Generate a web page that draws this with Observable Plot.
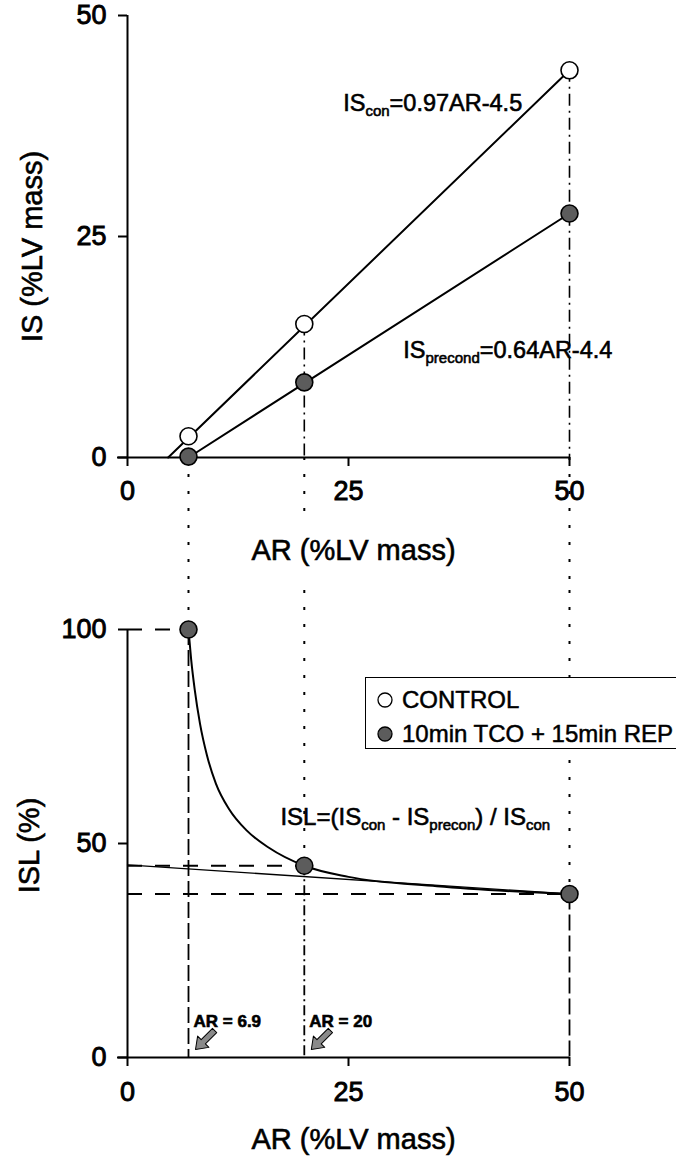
<!DOCTYPE html>
<html><head><meta charset="utf-8">
<script src="https://cdn.jsdelivr.net/npm/d3@7"></script>
<script src="https://cdn.jsdelivr.net/npm/@observablehq/plot@0.6"></script>
<style>
html,body{margin:0;padding:0;background:#fff;overflow:hidden;}
#wrap{position:relative;width:676px;height:1162px;font-family:"Liberation Sans",Arial,sans-serif;}
#wrap svg{display:block;}
#wrap svg text{stroke:#000;stroke-width:0.6px;}
#wrap svg g[aria-label="x-axis tick label"] text,#wrap svg g[aria-label="y-axis tick label"] text{stroke-width:0.9px;}
.legend{position:absolute;left:365px;top:677px;width:340px;height:72px;border:1.6px solid #000;box-sizing:border-box;background:#fff;font-size:24px;-webkit-text-stroke:0.5px #000;}
.legend .row{position:absolute;left:10px;display:flex;align-items:center;white-space:nowrap;}
.legend .row svg{margin-right:8px;}
</style>
</head><body>
<div id="wrap"></div>
<script>
// ---- data ----
const arPoints   = [6.9, 20, 50];          // AR (%LV mass)
const isControl  = [2.4, 15.1, 43.8];      // IS control (%LV mass)
const isPrecond  = [0.1, 8.5, 27.6];       // IS preconditioned (%LV mass)
const controlFitAR = [4.6, 50];
const controlFitIS = [0, 43.8];
const precondFitAR = [6.9, 50];
const precondFitIS = [0, 27.6];
const islPoints  = [100, 44.8, 38.2];      // ISL (%)
const curveAR    = [6.9, 7.2, 7.6, 8.2, 9.0, 10.0, 11.5, 13.5, 16.0, 20, 25, 35, 50];
const curveISL   = [100, 93, 86, 78, 70.5, 64, 58, 53, 49, 44.8, 42.2, 40, 38.2];
const trendAR    = [0, 50];
const trendISL   = [45, 38.2];
const xTicks     = [0, 25, 50];
const isTicks    = [0, 25, 50];
const islTicks   = [0, 50, 100];
const xLabel = "AR (%LV mass)";
const isLabel = "IS (%LV mass)";
const islLabel = "ISL (%)";
const legendLabels = ["CONTROL", "10min TCO + 15min REP"];
const eqTop = [{t: "IS{con}=0.97AR-4.5", x: 24.4, y: 40.0}, {t: "IS{precond}=0.64AR-4.4", x: 31.2, y: 12.1}];
const eqBottom = [{t: "ISL=(IS{con} - IS{precon}) / IS{con}", x: 17.3, y: 56.1}];
const annotAR = [6.9, 20];
const annotLabels = ["AR = 6.9", "AR = 20"];
const annotISL = 8.4;

// ---- layout ----
const W = 676;
const topL = {height: 590, marginTop: 15, marginBottom: 133, marginLeft: 127, marginRight: 107};
const botL = {height: 572, marginTop: 39, marginBottom: 105, marginLeft: 127, marginRight: 107};
const FONT = "'Liberation Sans', Arial, sans-serif";
const style = {fontFamily: FONT, fontSize: "27px", background: "white", overflow: "visible"};
const idx = d3.range(arPoints.length);
const dotsStroke = 1.6;

const fatArrow = {
  draw(ctx, l) {
    const w = 3, hw = 8, hl = 11;
    ctx.moveTo(-w, 0); ctx.lineTo(-w, -l + hl); ctx.lineTo(-hw, -l + hl);
    ctx.lineTo(0, -l); ctx.lineTo(hw, -l + hl); ctx.lineTo(w, -l + hl);
    ctx.lineTo(w, 0); ctx.closePath();
  }
};

const topPlot = Plot.plot({
  width: W, ...topL, style,
  x: {domain: [0, 50]}, y: {domain: [0, 50]},
  marks: [
    Plot.ruleX(idx.filter(i => i !== 1), {x: i => arPoints[i], y1: 0, y2: 0, insetBottom: -topL.marginBottom, strokeDasharray: "3,14", strokeWidth: 2}),
    Plot.ruleX([1], {x: i => arPoints[i], y1: 0, y2: 0, insetBottom: -68, strokeDasharray: "3,14", strokeWidth: 2}),
    Plot.ruleX(idx.slice(1), {x: i => arPoints[i], y1: i => isControl[i], y2: 0, strokeDasharray: "12,5,2,5", strokeWidth: 1.6}),
    Plot.ruleX([0], {y1: 0, y2: 50, strokeWidth: 2}),
    Plot.ruleY([0], {x1: 0, x2: 50, strokeWidth: 2, insetLeft: -10}),
    Plot.axisX({ticks: xTicks, tickSize: 9, tickPadding: 14, label: null, strokeWidth: 2}),
    Plot.axisY({ticks: isTicks, tickSize: 9, tickPadding: 12, label: null, strokeWidth: 2}),
    Plot.line(d3.range(controlFitAR.length), {x: i => controlFitAR[i], y: i => controlFitIS[i], strokeWidth: 2}),
    Plot.line(d3.range(precondFitAR.length), {x: i => precondFitAR[i], y: i => precondFitIS[i], strokeWidth: 2}),
    Plot.dot(idx, {x: i => arPoints[i], y: i => isControl[i], r: 8.5, fill: "white", stroke: "black", strokeWidth: dotsStroke}),
    Plot.dot(idx, {x: i => arPoints[i], y: i => isPrecond[i], r: 8.5, fill: "#5c5c5c", stroke: "black", strokeWidth: dotsStroke}),
    Plot.text(eqTop, {x: "x", y: "y", text: "t", textAnchor: "start", fontSize: 23.5}),
    Plot.text([xLabel], {frameAnchor: "bottom", dx: 5, dy: 102, fontSize: 29, textAnchor: "middle"}),
    Plot.text([isLabel], {frameAnchor: "left", dx: -95, dy: 10, rotate: -90, fontSize: 29, textAnchor: "middle"})
  ]
});

const islTop = 100 + botL.marginTop / ((botL.height - botL.marginTop - botL.marginBottom) / 100);

const botPlot = Plot.plot({
  width: W, ...botL, style,
  x: {domain: [0, 50]}, y: {domain: [0, 100]},
  marks: [
    Plot.ruleX(idx, {x: i => arPoints[i], y1: islTop, y2: i => islPoints[i], strokeDasharray: "3,14", strokeWidth: 2}),
    Plot.ruleY(idx, {y: i => islPoints[i], x1: 0, x2: i => arPoints[i], strokeDasharray: "15,13", strokeWidth: 1.8}),
    Plot.ruleX([0, 2], {x: i => arPoints[i], y1: i => islPoints[i], y2: 0, strokeDasharray: "16,5", strokeWidth: 1.8}),
    Plot.ruleX([1], {x: i => arPoints[i], y1: i => islPoints[i], y2: 0, strokeDasharray: "10,4,2,4", strokeWidth: 1.8}),
    Plot.ruleX([0], {y1: 0, y2: 100, strokeWidth: 2}),
    Plot.ruleY([0], {x1: 0, x2: 50, strokeWidth: 2, insetLeft: -10}),
    Plot.axisX({ticks: xTicks, tickSize: 9, tickPadding: 15, label: null, strokeWidth: 2}),
    Plot.axisY({ticks: islTicks, tickSize: 9, tickPadding: 12, label: null, strokeWidth: 2}),
    Plot.line(d3.range(trendAR.length), {x: i => trendAR[i], y: i => trendISL[i], strokeWidth: 1.3}),
    Plot.line(d3.range(curveAR.length), {x: i => curveAR[i], y: i => curveISL[i], curve: "monotone-x", strokeWidth: 2}),
    Plot.dot(idx, {x: i => arPoints[i], y: i => islPoints[i], r: 8.5, fill: "#5c5c5c", stroke: "black", strokeWidth: dotsStroke}),
    Plot.text(eqBottom, {x: "x", y: "y", text: "t", textAnchor: "start", fontSize: 24}),
    Plot.text(d3.range(annotAR.length), {x: i => annotAR[i], y: annotISL, text: i => annotLabels[i], dx: 5, textAnchor: "start", fontSize: 17, fontWeight: "bold"}),
    Plot.vector(annotAR, {x: d => d, y: 0, length: 27, rotate: 225, anchor: "end", dx: 7, dy: -8, shape: fatArrow, fill: "#8a8a8a", stroke: "black", strokeWidth: 1}),
    Plot.text([xLabel], {frameAnchor: "bottom", dx: 5, dy: 91, fontSize: 29, textAnchor: "middle"}),
    Plot.text([islLabel], {frameAnchor: "left", dx: -98, dy: 2, rotate: -90, fontSize: 29, textAnchor: "middle"})
  ]
});

function applySubscripts(svg) {
  const NS = "http://www.w3.org/2000/svg";
  svg.querySelectorAll("text").forEach(t => {
    const s = t.textContent;
    if (!s.includes("{")) return;
    while (t.firstChild) t.removeChild(t.firstChild);
    let sub = false;
    s.split(/(\{[^}]*\})/).forEach(p => {
      if (!p) return;
      const ts = document.createElementNS(NS, "tspan");
      if (p.startsWith("{")) {
        ts.textContent = p.slice(1, -1);
        ts.setAttribute("font-size", "15");
        ts.setAttribute("dy", "5");
        sub = true;
      } else {
        ts.textContent = p;
        if (sub) { ts.setAttribute("dy", "-5"); sub = false; }
      }
      t.appendChild(ts);
    });
  });
}
applySubscripts(topPlot);
applySubscripts(botPlot);

const wrap = document.getElementById("wrap");
wrap.appendChild(topPlot);
wrap.appendChild(botPlot);

// legend
const leg = document.createElement("div");
leg.className = "legend";
const legFills = ["#fff", "#5c5c5c"];
legendLabels.forEach((lab, i) => {
  const row = document.createElement("div");
  row.className = "row";
  row.style.top = (i === 0 ? 8 : 42) + "px";
  row.innerHTML = `<svg width="18" height="18"><circle cx="9" cy="9" r="7" fill="${legFills[i]}" stroke="#000" stroke-width="1.3"/></svg>`;
  const sp = document.createElement("span");
  sp.textContent = lab;
  row.appendChild(sp);
  leg.appendChild(row);
});
wrap.appendChild(leg);
</script>
</body></html>
